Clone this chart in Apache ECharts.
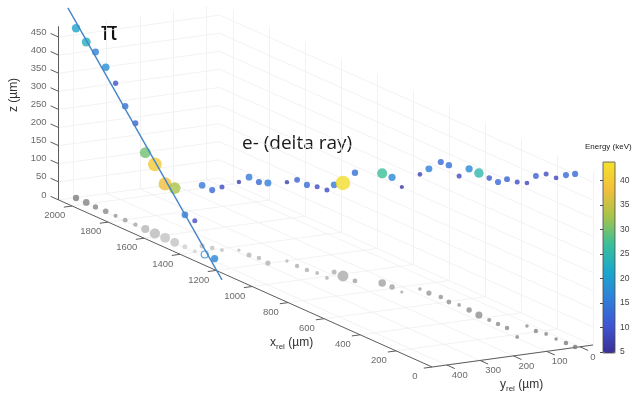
<!DOCTYPE html>
<html><head><meta charset="utf-8">
<script src="https://cdn.jsdelivr.net/npm/echarts@6/dist/echarts.min.js"></script>
<style>html,body{margin:0;padding:0;background:#fff}#c{width:635px;height:398px}</style>
</head><body><div id="c"></div>
<script>
// ---------------- data (µm, keV) ----------------
const xTicks = [0,200,400,600,800,1000,1200,1400,1600,1800,2000];
const yTicks = [0,100,200,300,400];
const zTicks = [0,50,100,150,200,250,300,350,400,450];
const energyTicks = [5,10,15,20,25,30,35,40];
const xLim = [0, 2075];
const yLim = [-39, 444];
const zLim = [0, 480];
const energyLim = [4.8, 43.8];

// pion track hits
const piX = [2071,2016,1961,1906,1851,1796,1741,1686,1631,1576,1521,1466,1411,1356,1301];
const piY = [394,393,395,394,394,395,394,394,395,394,395,394,394,394,394];
const piZ = [469,443,428,398,366,315,280,211,191,149,150,88,84,3,4];
const piE = [21,23,16,18,10,14,12,30,40,38,33,15,9,16,17];
const piHollow = [0,0,0,0,0,0,0,0,0,0,0,0,0,1,0];
// pion straight-line fit (two end points)
const piFitX = [2116, 1260];
const piFitY = [394, 394];
const piFitZ = [515, -46];

// delta-ray electron hits
const deX = [1450,1418,1386,1364,1304,1262,1203,1197,1137,1086,1044,984,1031,982,919,864,813,753,758,708,655,597,555,494,434,373,324,274,175,267,208,166,105,54,5];
const deY = [351,338,326,287,289,282,287,233,235,233,225,228,181,181,179,127,125,128,71,71,64,71,63,66,69,71,71,71,94,15,20,12,15,13,12];
const deZ = [168,160,174,188,215,210,221,218,238,235,238,243,241,257,299,303,303,290,317,343,373,378,356,390,392,392,392,411,428,395,428,442,445,464,478];
const deE = [15,13,9,7,15,13,16,7,12,13,9,9,15,43,14,27,17,6,8,16,13,14,9,17,25,11,13,12,9,8,12,9,8,13,13];

// ---------------- view (orthographic projection) ----------------
const VIEW = { ex:[-0.18, 0.0805], ey:[-0.333, -0.0455], ez:[0, 0.362] }; // screen units per µm (u right, w up)
const ORIGIN_PX = [580, 346.8];   // where (0,0,0) sits on the canvas
const W = 635, H = 398;
function proj(x, y, z) {
  return [x*VIEW.ex[0] + y*VIEW.ey[0] + z*VIEW.ez[0],
          x*VIEW.ex[1] + y*VIEW.ey[1] + z*VIEW.ez[1]];
}
const PARULA = ['#3b2f94','#3f55d2','#2f80d8','#1aa8cc','#3cbf98','#a6c34a','#f3bf3c','#f4e22a'];
const markSize = e => 2.5 + 0.28*e;
const shadowGray = z => { const g = Math.round(Math.max(100, Math.min(225, 228 - 0.22*z))); return 'rgb('+g+','+g+','+g+')'; };

// ---------------- build geometry ----------------
const seg = (a, b) => ({ coords: [proj(a[0],a[1],a[2]), proj(b[0],b[1],b[2])] });
const [x0, x1] = xLim, [y0, y1] = yLim, [z0, z1] = zLim;
const gridSegs = [];
xTicks.forEach(x => { gridSegs.push(seg([x,y0,0],[x,y1,0])); gridSegs.push(seg([x,y0,0],[x,y0,z1])); });
yTicks.forEach(y => { gridSegs.push(seg([0,y,0],[x1,y,0])); gridSegs.push(seg([x1,y,0],[x1,y,z1])); });
zTicks.forEach(z => { gridSegs.push(seg([x1,y0,z],[x1,y1,z])); gridSegs.push(seg([0,y0,z],[x1,y0,z])); });

const axisSegs = [
  seg([0,y1,0],[x1,y1,0]),
  seg([0,y0,0],[0,y1,0]),
  seg([x1,y1,0],[x1,y1,z1])
];
xTicks.forEach(x => axisSegs.push(seg([x,y1,0],[x,y1+25,0])));
yTicks.forEach(y => axisSegs.push(seg([0,y,0],[-45,y,0])));
zTicks.forEach(z => axisSegs.push(seg([x1,y1,z],[x1+45,y1,z])));

const xLab = xTicks.map(x => proj(x, y1+52, -20).concat([x]));
const yLab = yTicks.map(y => proj(-72, y, -12).concat([y]));
const zLab = zTicks.map(z => proj(x1+62, y1, z).concat([z]));

const shadows = [];
piX.forEach((x,i) => shadows.push({ value: proj(x,piY[i],0).concat([piE[i]]), itemStyle:{color: shadowGray(piZ[i])} }));
deX.forEach((x,i) => shadows.push({ value: proj(x,deY[i],0).concat([deE[i]]), itemStyle:{color: shadowGray(deZ[i])} }));

const piFilled = [], piOpen = [];
piX.forEach((x,i) => (piHollow[i] ? piOpen : piFilled).push(proj(x,piY[i],piZ[i]).concat([piE[i]])));
const deData = deX.map((x,i) => proj(x,deY[i],deZ[i]).concat([deE[i]]));
const piFit = piFitX.map((x,i) => proj(x, piFitY[i], piFitZ[i]));

const TXT = '#444', FONT = 'Liberation Sans';
const labelSeries = (data, pos, align) => ({
  type:'scatter', data, symbolSize:2, itemStyle:{color:'rgba(0,0,0,0)'}, silent:true, z:6,
  label:{show:true, position:pos, distance:0, formatter:p=>String(p.value[2]), color:TXT, fontSize:9.5, fontFamily:FONT, align:align, verticalAlign:'middle'}
});

const chart = echarts.init(document.getElementById('c'), null, {renderer:'canvas'});
chart.setOption({
  animation:false,
  backgroundColor:'#ffffff',
  grid:[
    {left:0, right:0, top:0, bottom:0},
    {left:603, top:162, width:12, height:191, show:true, borderColor:'#4a4a4a', borderWidth:0.8, backgroundColor:'transparent', z:10}
  ],
  xAxis:[
    {type:'value', min:-ORIGIN_PX[0], max:W-ORIGIN_PX[0], show:false},
    {type:'value', gridIndex:1, min:0, max:1, show:false}
  ],
  yAxis:[
    {type:'value', min:-(H-ORIGIN_PX[1]), max:ORIGIN_PX[1], show:false},
    {type:'value', gridIndex:1, position:'right', min:energyLim[0], max:energyLim[1], z:11,
     splitLine:{show:false}, axisLine:{show:false},
     axisTick:{show:true, inside:true, length:3, lineStyle:{color:'#4a4a4a'}, customValues:energyTicks},
     axisLabel:{show:true, margin:5, fontSize:8.5, color:TXT, fontFamily:FONT, customValues:energyTicks}}
  ],
  visualMap:{
    type:'continuous', min:energyLim[0], max:energyLim[1], dimension:2, seriesIndex:[6,7],
    inRange:{color:PARULA}, calculable:false, orient:'vertical',
    left:603, top:162, itemWidth:12, itemHeight:191, padding:0, text:null, showLabel:false
  },
  graphic:[
    {type:'text', left:101, top:20, style:{text:'π', fontSize:25, fontFamily:'Noto Sans', fill:'#111'}},
    {type:'text', left:242, top:134, style:{text:'e- (delta ray)', fontSize:19, fontFamily:'Open Sans', fill:'#1a1a1a'}},
    {type:'text', x:14, y:95, rotation:Math.PI/2, style:{text:'z (µm)', fontSize:12, fontFamily:FONT, fill:'#333', align:'center', verticalAlign:'middle'}},
    {type:'text', left:270, top:337, style:{text:'{a|x}{b|rel}{a| (µm)}', fontFamily:FONT, fill:'#333',
       rich:{a:{fontSize:12, fontFamily:FONT, fill:'#333'}, b:{fontSize:8, fontFamily:FONT, fill:'#333', padding:[8,0,0,0]}}}},
    {type:'text', left:500, top:379, style:{text:'{a|y}{b|rel}{a| (µm)}', fontFamily:FONT, fill:'#333',
       rich:{a:{fontSize:12, fontFamily:FONT, fill:'#333'}, b:{fontSize:8, fontFamily:FONT, fill:'#333', padding:[8,0,0,0]}}}},
    {type:'text', left:585, top:143, style:{text:'Energy (keV)', fontSize:8, fontFamily:FONT, fill:'#222'}}
  ],
  series:[
    {type:'lines', coordinateSystem:'cartesian2d', data:gridSegs, silent:true, z:1,
     lineStyle:{color:'#efefef', width:0.8, opacity:1}},
    {type:'lines', coordinateSystem:'cartesian2d', data:axisSegs, silent:true, z:2,
     lineStyle:{color:'#5c5c5c', width:1, opacity:1}},
    labelSeries(xLab, 'inside', 'center'),
    labelSeries(yLab, 'inside', 'center'),
    labelSeries(zLab, 'left', 'right'),
    {type:'scatter', data:shadows, symbolSize:v=>0.75*markSize(v[2]), silent:true, z:3},
    {type:'scatter', data:piFilled, symbolSize:v=>markSize(v[2]), silent:true, z:4},
    {type:'scatter', data:deData, symbolSize:v=>markSize(v[2]), silent:true, z:4},
    {type:'scatter', data:piOpen, symbolSize:v=>markSize(v[2]), silent:true, z:4,
     itemStyle:{color:'#ffffff', borderColor:'#2f8ee0', borderWidth:1.2}},
    {type:'line', data:piFit, symbol:'none', silent:true, z:5,
     lineStyle:{color:'#4586c6', width:1.4}}
  ]
});
</script>
</body></html>
